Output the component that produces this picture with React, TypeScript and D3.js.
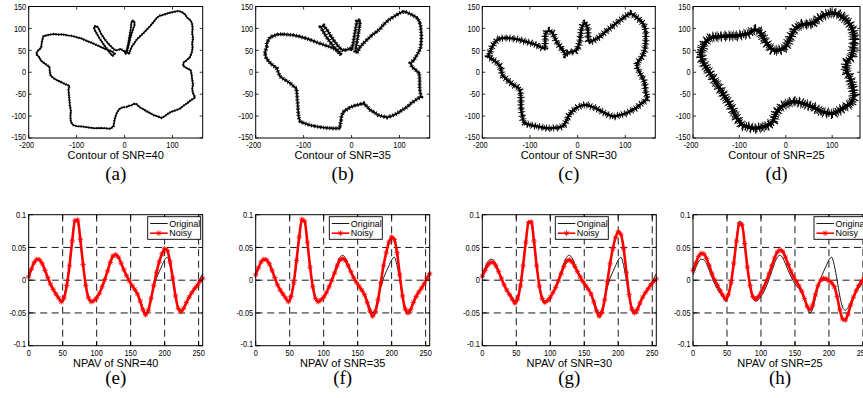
import React from 'react';
import * as d3 from 'd3';

// ---------------- DATA ----------------
const npavIndex = d3.range(0, 257, 4);

const npavOriginal = [
  0.008, 0.019, 0.028, 0.032, 0.031, 0.025, 0.015, 0.004, -0.006, -0.014, -0.020, -0.026, -0.032,
  -0.024, -0.004, 0.026, 0.062, 0.090, 0.088, 0.058, 0.022, -0.007, -0.025, -0.032, -0.030, -0.025,
  -0.018, -0.009, 0.002, 0.014, 0.026, 0.035, 0.038, 0.034, 0.025, 0.015, 0.006, -0.002, -0.008,
  -0.013, -0.020, -0.030, -0.042, -0.050, -0.044, -0.028, -0.011, 0.003, 0.013, 0.022, 0.031, 0.035,
  0.022, 0.000, -0.024, -0.041, -0.046, -0.042, -0.033, -0.025, -0.018, -0.012, -0.006, 0.002, 0.010,
];

const npavNoisy40 = [
  0.005, 0.017, 0.027, 0.032, 0.031, 0.025, 0.015, 0.004, -0.006, -0.014, -0.021, -0.027, -0.033,
  -0.027, -0.008, 0.022, 0.060, 0.091, 0.092, 0.062, 0.024, -0.008, -0.027, -0.033, -0.031, -0.027,
  -0.020, -0.010, 0.001, 0.014, 0.027, 0.037, 0.039, 0.035, 0.026, 0.016, 0.007, -0.001, -0.008,
  -0.014, -0.021, -0.032, -0.045, -0.053, -0.046, -0.028, -0.008, 0.012, 0.028, 0.040, 0.048, 0.045,
  0.028, 0.003, -0.024, -0.043, -0.048, -0.043, -0.034, -0.026, -0.019, -0.013, -0.008, -0.002, 0.003,
];

const npavNoisy35 = [
  0.008, 0.019, 0.028, 0.032, 0.031, 0.025, 0.015, 0.004, -0.007, -0.015, -0.021, -0.027, -0.033,
  -0.025, -0.004, 0.030, 0.066, 0.093, 0.090, 0.058, 0.020, -0.010, -0.028, -0.033, -0.030, -0.026,
  -0.019, -0.010, 0.000, 0.011, 0.022, 0.031, 0.033, 0.030, 0.022, 0.013, 0.004, -0.003, -0.009,
  -0.015, -0.022, -0.034, -0.047, -0.055, -0.048, -0.030, -0.004, 0.022, 0.042, 0.058, 0.066, 0.062,
  0.042, 0.008, -0.024, -0.044, -0.050, -0.045, -0.034, -0.025, -0.018, -0.012, -0.005, 0.003, 0.010,
];

const npavNoisy30 = [
  0.006, 0.015, 0.023, 0.027, 0.027, 0.022, 0.013, 0.003, -0.007, -0.015, -0.022, -0.029, -0.035,
  -0.029, -0.009, 0.022, 0.058, 0.088, 0.089, 0.060, 0.022, -0.009, -0.028, -0.034, -0.031, -0.026,
  -0.019, -0.011, -0.001, 0.010, 0.021, 0.029, 0.031, 0.028, 0.021, 0.013, 0.005, -0.002, -0.008,
  -0.014, -0.021, -0.033, -0.047, -0.055, -0.049, -0.030, -0.002, 0.025, 0.048, 0.065, 0.074, 0.070,
  0.048, 0.012, -0.022, -0.044, -0.050, -0.045, -0.035, -0.026, -0.019, -0.013, -0.007, -0.002, 0.002,
];

const npavNoisy25 = [
  0.015, 0.026, 0.036, 0.041, 0.040, 0.033, 0.022, 0.010, 0.000, -0.008, -0.016, -0.023, -0.029,
  -0.022, -0.004, 0.026, 0.060, 0.086, 0.085, 0.056, 0.020, -0.008, -0.025, -0.029, -0.025, -0.019,
  -0.011, -0.001, 0.010, 0.022, 0.034, 0.043, 0.046, 0.044, 0.035, 0.024, 0.014, 0.005, -0.002,
  -0.009, -0.017, -0.028, -0.040, -0.045, -0.038, -0.022, -0.008, 0.000, 0.003, 0.002, -0.001, -0.004,
  -0.010, -0.025, -0.045, -0.059, -0.061, -0.052, -0.038, -0.026, -0.016, -0.008, -0.002, 0.004, 0.010,
];

const contour40: [number, number][] = [
  [-184, 44], [-180, 50], [-174, 56], [-173, 66], [-171, 76], [-169, 82], [-160, 85], [-149, 87], [-138, 86],
  [-128, 86], [-118, 84], [-110, 83], [-100, 80], [-90, 77], [-80, 72], [-70, 68], [-58, 62], [-48, 57],
  [-38, 52], [-30, 49], [-24, 46], [-21, 42], [-25, 37], [-29, 42], [-36, 52], [-44, 64], [-52, 77],
  [-58, 88], [-62, 96], [-64, 102], [-61, 105], [-57, 104], [-54, 100], [-50, 90], [-42, 76], [-33, 64],
  [-24, 54], [-19, 50], [-14, 51], [-8, 53], [-2, 49], [2, 44], [6, 56], [10, 80], [13, 100], [14, 112],
  [16, 118], [20, 116], [21, 109], [17, 96], [12, 78], [8, 60], [5, 46], [9, 42], [15, 58], [25, 74],
  [39, 89], [53, 105], [60, 114], [67, 124], [74, 129], [81, 131], [92, 135], [104, 138], [112, 140],
  [120, 137], [126, 132], [131, 124], [138, 118], [141, 110], [142, 100], [141, 88], [143, 78], [141, 66],
  [142, 56], [140, 44], [136, 34], [130, 28], [123, 22], [122, 15], [130, 9], [138, 5], [140, -6],
  [141, -17], [143, -28], [141, -38], [143, -48], [147, -58], [138, -64], [130, -71], [122, -77],
  [116, -83], [106, -87], [98, -90], [90, -95], [84, -100], [77, -104], [70, -101], [61, -98], [53, -93],
  [46, -89], [39, -84], [32, -80], [25, -73], [20, -72], [15, -75], [8, -77], [4, -79], [-4, -80],
  [-10, -83], [-16, -92], [-20, -105], [-22, -115], [-23, -123], [-30, -129], [-40, -128], [-50, -127],
  [-62, -128], [-75, -126], [-88, -124], [-100, -123], [-108, -120], [-112, -113], [-113, -100],
  [-112, -88], [-114, -76], [-115, -64], [-116, -52], [-117, -40], [-115, -31], [-124, -27], [-135, -21],
  [-143, -17], [-149, -13], [-155, -6], [-156, 4], [-157, 13], [-163, 17], [-169, 22], [-174, 26],
  [-178, 34], [-183, 40],
];

const contour35: [number, number][] = [
  [-181, 44], [-177, 58], [-177, 67], [-170, 80], [-156, 86], [-145, 87], [-135, 86], [-124, 85], [-114, 83],
  [-100, 79], [-86, 74], [-72, 68], [-59, 63], [-48, 59], [-38, 55], [-30, 50], [-24, 44], [-22, 40],
  [-28, 46], [-40, 62], [-52, 80], [-60, 94], [-64, 103], [-58, 106], [-52, 98], [-44, 84], [-34, 68],
  [-24, 55], [-18, 50], [-10, 51], [-3, 55], [0, 50], [3, 64], [6, 84], [9, 104], [11, 116], [15, 119],
  [18, 114], [16, 100], [13, 80], [10, 62], [8, 48], [11, 44], [18, 58], [32, 74], [44, 86], [53, 93],
  [61, 101], [67, 109], [76, 118], [84, 124], [93, 130], [102, 136], [110, 139], [116, 136], [126, 131],
  [137, 124], [142, 114], [144, 105], [145, 94], [146, 82], [145, 68], [144, 55], [138, 42], [130, 28],
  [123, 21], [126, 12], [134, 5], [141, -2], [142, -15], [142, -33], [143, -45], [145, -56], [138, -60],
  [133, -64], [124, -71], [116, -79], [106, -86], [95, -94], [85, -99], [74, -103], [66, -101], [56, -98],
  [48, -92], [39, -86], [32, -78], [25, -71], [18, -73], [11, -75], [4, -77], [-3, -80], [-10, -85],
  [-17, -90], [-21, -100], [-22, -110], [-24, -120], [-24, -128], [-38, -128], [-50, -127], [-59, -126],
  [-72, -124], [-86, -121], [-97, -117], [-107, -113], [-110, -104], [-111, -94], [-112, -78], [-113, -64],
  [-114, -50], [-115, -37], [-122, -31], [-128, -25], [-138, -18], [-149, -10], [-153, 0], [-156, 9],
  [-163, 15], [-170, 21], [-178, 32],
];

const contour30: [number, number][] = [
  [-187, 37], [-183, 48], [-179, 59], [-172, 70], [-165, 76], [-151, 78], [-130, 76], [-109, 70], [-88, 63],
  [-70, 55], [-68, 72], [-67, 89], [-60, 95], [-53, 90], [-46, 74], [-38, 60], [-30, 49], [-25, 40],
  [-18, 45], [-11, 47], [-3, 50], [4, 68], [7, 90], [10, 106], [16, 112], [21, 100], [22, 85], [24, 70],
  [32, 72], [45, 80], [58, 92], [70, 102], [80, 111], [92, 121], [101, 128], [110, 134], [118, 130],
  [126, 123], [134, 115], [140, 105], [143, 90], [143, 75], [142, 60], [139, 45], [133, 32], [126, 22],
  [125, 12], [129, 2], [135, -10], [140, -22], [142, -36], [143, -48], [146, -59], [140, -66], [133, -72],
  [122, -82], [112, -88], [101, -94], [88, -98], [76, -101], [67, -98], [58, -94], [48, -88], [38, -82],
  [28, -78], [20, -75], [12, -75], [6, -77], [-2, -81], [-8, -86], [-13, -91], [-18, -98], [-22, -107],
  [-26, -116], [-30, -122], [-39, -126], [-50, -127], [-60, -128], [-73, -126], [-88, -123], [-100, -120],
  [-109, -117], [-114, -110], [-116, -100], [-118, -88], [-119, -76], [-119, -62], [-120, -48],
  [-123, -37], [-133, -30], [-144, -21], [-151, -14], [-158, -6], [-160, 3], [-162, 13], [-167, 19],
  [-172, 24], [-179, 30],
];

const contour25: [number, number][] = [
  [-183, 44], [-179, 56], [-175, 66], [-168, 74], [-161, 79], [-148, 81], [-136, 82], [-120, 83], [-107, 83],
  [-92, 86], [-79, 89], [-68, 97], [-57, 93], [-50, 82], [-46, 74], [-38, 62], [-28, 51], [-20, 50],
  [-14, 51], [-6, 54], [0, 59], [6, 70], [11, 82], [16, 92], [22, 101], [29, 106], [36, 109], [47, 110],
  [58, 112], [68, 120], [79, 128], [90, 133], [101, 135], [110, 133], [115, 131], [125, 124], [133, 116],
  [140, 106], [144, 97], [147, 82], [147, 66], [145, 50], [142, 36], [133, 25], [130, 13], [132, 0],
  [137, -10], [141, -22], [144, -33], [146, -45], [147, -56], [144, -64], [140, -71], [131, -77],
  [122, -83], [112, -89], [101, -94], [90, -93], [79, -90], [68, -85], [58, -79], [47, -75], [36, -71],
  [25, -68], [15, -67], [4, -71], [-7, -77], [-15, -85], [-21, -94], [-25, -104], [-28, -113], [-36, -119],
  [-43, -123], [-55, -126], [-68, -128], [-80, -125], [-93, -121], [-100, -112], [-107, -102], [-114, -87],
  [-122, -71], [-129, -60], [-136, -48], [-145, -33], [-154, -18], [-161, -6], [-168, 5], [-174, 15],
  [-179, 25], [-182, 35],
];

const contours = [contour40, contour35, contour30, contour25];
const noisySeries = [npavNoisy40, npavNoisy35, npavNoisy30, npavNoisy25];
const contourTitles = ['Contour of SNR=40', 'Contour of SNR=35', 'Contour of SNR=30', 'Contour of SNR=25'];
const npavTitles = ['NPAV of SNR=40', 'NPAV of SNR=35', 'NPAV of SNR=30', 'NPAV of SNR=25'];
const topLetters = ['(a)', '(b)', '(c)', '(d)'];
const bottomLetters = ['(e)', '(f)', '(g)', '(h)'];
const contourXTicks = [-200, -100, 0, 100];
const contourYTicks = [-150, -100, -50, 0, 50, 100, 150];
const npavXTicks = [0, 50, 100, 150, 200, 250];
const npavYTicks = [-0.1, -0.05, 0, 0.05, 0.1];
const npavGridX = [50, 100, 150, 200, 250];
const npavGridY = [-0.05, 0, 0.05];
const legendLabels = ['Original', 'Noisy'];

// ---------------- LAYOUT / STYLE ----------------
const W = 863;
const H = 398;
const panelLefts = [28.7, 255.7, 482.3, 693];
const topRights = [202.7, 429.7, 655.3, 860];
const topXMax = [163, 163, 163, 160];
const bottomWidth = 174;
const TOP = { y0: 6.5, y1: 138 };
const BOT = { y0: 214.7, y1: 345.7 };
const legendOffsets = [119, 73.6, 73, 121];
// textured strokes that imitate the noisy outline (hairs perpendicular to the path)
const noiseStyles = [
  { core: 1.5, hairs: [{ w: 2.6, dash: '0.7 1.9', off: 0 }] },
  { core: 1.6, hairs: [{ w: 4.2, dash: '0.8 2.3', off: 0 }, { w: 3, dash: '0.7 1.3', off: 0.5 }] },
  { core: 2.4, hairs: [{ w: 7.5, dash: '0.8 2.9', off: 0 }, { w: 5, dash: '0.9 1.5', off: 0.6 }] },
  { core: 3.6, hairs: [{ w: 11, dash: '0.8 3.1', off: 0 }, { w: 7.5, dash: '1 1.7', off: 0.9 }, { w: 9, dash: '0.7 4.3', off: 2 }] },
];
const RED = '#ff0000';
const SANS = 'Arial, "Liberation Sans", Helvetica, sans-serif';
const SERIF = '"Times New Roman", "Liberation Serif", serif';

function TickText({ x, y, anchor, children }: { x: number; y: number; anchor: string; children: any }) {
  return (
    <text
      transform={`translate(${x},${y}) scale(0.82,1)`}
      textAnchor={anchor}
      fontFamily={SANS}
      fontSize={9}
      fill="#000"
    >
      {children}
    </text>
  );
}

function starPath(s: number) {
  const a = s * 0.72;
  return `M${-s},0L${s},0M0,${-s}L0,${s}M${-a},${-a}L${a},${a}M${-a},${a}L${a},${-a}`;
}

function ContourPanel({ i }: { i: number }) {
  const left = panelLefts[i];
  const right = topRights[i];
  const x = d3.scaleLinear().domain([-200, topXMax[i]]).range([left, right]);
  const y = d3.scaleLinear().domain([-150, 150]).range([TOP.y1, TOP.y0]);
  const smooth = i >= 2;
  const line = d3
    .line<[number, number]>()
    .x((d) => x(d[0]))
    .y((d) => y(d[1]))
    .curve(smooth ? d3.curveCatmullRomClosed.alpha(0.5) : d3.curveLinearClosed);
  const path = line(contours[i]) || '';
  const st = noiseStyles[i];
  const cx = (left + right) / 2;
  return (
    <g>
      <rect x={left} y={TOP.y0} width={right - left} height={TOP.y1 - TOP.y0} fill="#fff" />
      {st.hairs.map((h, k) => (
        <path
          key={'h' + k}
          d={path}
          fill="none"
          stroke="#000"
          strokeWidth={h.w}
          strokeDasharray={h.dash}
          strokeDashoffset={h.off}
        />
      ))}
      <path d={path} fill="none" stroke="#000" strokeWidth={st.core} strokeLinejoin="round" />
      {contourXTicks.map((t) => (
        <g key={'xt' + t}>
          <line x1={x(t)} x2={x(t)} y1={TOP.y1} y2={TOP.y1 - 3} stroke="#000" strokeWidth={0.8} />
          <line x1={x(t)} x2={x(t)} y1={TOP.y0} y2={TOP.y0 + 3} stroke="#000" strokeWidth={0.8} />
          <TickText x={x(t) - (t === -200 ? 2 : 0)} y={148} anchor="middle">
            {String(t)}
          </TickText>
        </g>
      ))}
      {contourYTicks.map((t) => (
        <g key={'yt' + t}>
          <line x1={left} x2={left + 3} y1={y(t)} y2={y(t)} stroke="#000" strokeWidth={0.8} />
          <line x1={right} x2={right - 3} y1={y(t)} y2={y(t)} stroke="#000" strokeWidth={0.8} />
          <TickText x={left - 2.5} y={y(t) + 3.2 - (t === -150 ? 1.5 : 0)} anchor="end">
            {String(t)}
          </TickText>
        </g>
      ))}
      <rect x={left} y={TOP.y0} width={right - left} height={TOP.y1 - TOP.y0} fill="none" stroke="#000" strokeWidth={1} />
      <text x={cx} y={159.3} textAnchor="middle" fontFamily={SANS} fontSize={11} fill="#000">
        {contourTitles[i]}
      </text>
      <text x={cx} y={179.5} textAnchor="middle" fontFamily={SERIF} fontSize={19} fill="#000">
        {topLetters[i]}
      </text>
    </g>
  );
}

function NpavPanel({ i }: { i: number }) {
  const left = panelLefts[i];
  const right = left + bottomWidth;
  const x = d3.scaleLinear().domain([0, 256]).range([left, right]);
  const y = d3.scaleLinear().domain([-0.1, 0.1]).range([BOT.y1, BOT.y0]);
  const line = d3
    .line<number>()
    .x((_, k) => x(npavIndex[k]))
    .y((d) => y(d))
    .curve(d3.curveMonotoneX);
  const noisy = noisySeries[i];
  const star = starPath(2.7);
  const lx = left + legendOffsets[i];
  const ly = BOT.y0 + 2;
  const cx = left + 87;
  return (
    <g>
      <rect x={left} y={BOT.y0} width={right - left} height={BOT.y1 - BOT.y0} fill="#fff" />
      {npavGridX.map((t) => (
        <line key={'gx' + t} x1={x(t)} x2={x(t)} y1={BOT.y0} y2={BOT.y1} stroke="#000" strokeWidth={0.9} strokeDasharray="7 4.5" />
      ))}
      {npavGridY.map((t) => (
        <line key={'gy' + t} x1={left} x2={right} y1={y(t)} y2={y(t)} stroke="#000" strokeWidth={0.9} strokeDasharray="7 4.5" />
      ))}
      <path d={line(npavOriginal) || ''} fill="none" stroke="#000" strokeWidth={0.9} />
      <path d={line(noisy) || ''} fill="none" stroke={RED} strokeWidth={2.6} />
      {noisy.map((v, k) => (
        <path
          key={'m' + k}
          d={star}
          transform={`translate(${x(npavIndex[k])},${y(v)})`}
          fill="none"
          stroke={RED}
          strokeWidth={0.8}
        />
      ))}
      {npavXTicks.map((t) => (
        <g key={'xt' + t}>
          <line x1={x(t)} x2={x(t)} y1={BOT.y1} y2={BOT.y1 - 4.5} stroke="#000" strokeWidth={0.9} />
          <line x1={x(t)} x2={x(t)} y1={BOT.y0} y2={BOT.y0 + 4.5} stroke="#000" strokeWidth={0.9} />
          <TickText x={x(t)} y={355.5} anchor="middle">
            {String(t)}
          </TickText>
        </g>
      ))}
      {npavYTicks.map((t) => (
        <g key={'yt' + t}>
          <line x1={left} x2={left + 4.5} y1={y(t)} y2={y(t)} stroke="#000" strokeWidth={0.9} />
          <line x1={right} x2={right - 4.5} y1={y(t)} y2={y(t)} stroke="#000" strokeWidth={0.9} />
          <TickText x={left - 2.5} y={y(t) + 3.2 - (t === -0.1 ? 1.5 : 0)} anchor="end">
            {String(t)}
          </TickText>
        </g>
      ))}
      <rect x={left} y={BOT.y0} width={right - left} height={BOT.y1 - BOT.y0} fill="none" stroke="#000" strokeWidth={1} />
      {/* legend */}
      <g>
        <rect x={lx} y={ly} width={53} height={22.6} fill="#fff" stroke="#000" strokeWidth={0.9} />
        <line x1={lx + 2.5} x2={lx + 20} y1={ly + 6.8} y2={ly + 6.8} stroke="#000" strokeWidth={0.9} />
        <text x={lx + 21.5} y={ly + 10} fontFamily={SANS} fontSize={9} fill="#000">
          {legendLabels[0]}
        </text>
        <line x1={lx + 2.5} x2={lx + 20} y1={ly + 16.5} y2={ly + 16.5} stroke={RED} strokeWidth={1.6} />
        <path d={star} transform={`translate(${lx + 11.2},${ly + 16.5})`} fill="none" stroke={RED} strokeWidth={0.9} />
        <text x={lx + 21.5} y={ly + 19.7} fontFamily={SANS} fontSize={9} fill="#000">
          {legendLabels[1]}
        </text>
      </g>
      <text x={cx} y={366.5} textAnchor="middle" fontFamily={SANS} fontSize={11} fill="#000">
        {npavTitles[i]}
      </text>
      <text x={cx} y={384} textAnchor="middle" fontFamily={SERIF} fontSize={19} fill="#000">
        {bottomLetters[i]}
      </text>
    </g>
  );
}

export default function App() {
  return (
    <svg
      width={W}
      height={H}
      viewBox={`0 0 ${W} ${H}`}
      style={{ position: 'absolute', left: 0, top: 0, background: '#fff' }}
    >
      <rect x={0} y={0} width={W} height={H} fill="#fff" />
      {[0, 1, 2, 3].map((i) => (
        <ContourPanel key={'c' + i} i={i} />
      ))}
      {[0, 1, 2, 3].map((i) => (
        <NpavPanel key={'n' + i} i={i} />
      ))}
    </svg>
  );
}
